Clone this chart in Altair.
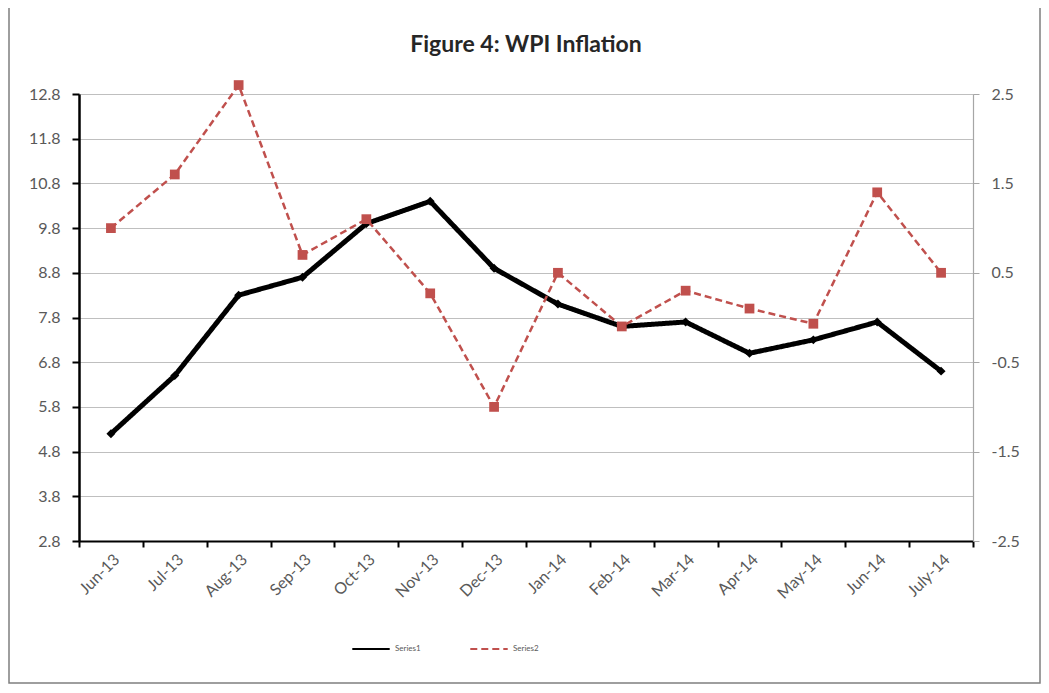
import altair as alt
import pandas as pd

months = ["Jun-13", "Jul-13", "Aug-13", "Sep-13", "Oct-13", "Nov-13", "Dec-13",
          "Jan-14", "Feb-14", "Mar-14", "Apr-14", "May-14", "Jun-14", "July-14"]
series1 = [5.2, 6.5, 8.3, 8.7, 9.9, 10.4, 8.9, 8.1, 7.6, 7.7, 7.0, 7.3, 7.7, 6.6]
series2 = [1.0, 1.6, 2.6, 0.7, 1.1, 0.27, -1.0, 0.5, -0.1, 0.3, 0.1, -0.07, 1.4, 0.5]
left_ticks = [2.8, 3.8, 4.8, 5.8, 6.8, 7.8, 8.8, 9.8, 10.8, 11.8, 12.8]
right_ticks = [-2.5, -1.5, -0.5, 0.5, 1.5, 2.5]
series_names = ["Series1", "Series2"]
title_text = "Figure 4: WPI Inflation"

df = pd.DataFrame({
    "month": months * 2,
    "series": ["Series1"] * len(months) + ["Series2"] * len(months),
    "value": series1 + series2,
})

FONT = "Lato"
LABEL = "#595959"
LFS = 16

xenc = alt.X(
    "month:N", sort=months,
    scale=alt.Scale(type="band", paddingInner=0, paddingOuter=0),
    axis=alt.Axis(title=None, labelAngle=-45, tickBand="extent", domainColor="black",
                  domainWidth=2, tickColor="black", tickWidth=2, tickSize=6,
                  labelFontSize=LFS, labelColor=LABEL, labelFont=FONT, labelPadding=4,
                  grid=False),
)

leg = alt.Legend(title=None, orient="none", legendX=272, legendY=535,
                 direction="horizontal", symbolType="stroke",
                 symbolSize=1400, symbolStrokeWidth=2, labelFontSize=8,
                 labelColor=LABEL, labelFont=FONT, columnPadding=45)
color = alt.Color("series:N", scale=alt.Scale(domain=series_names, range=["black", "#C0504D"]),
                  legend=leg)
dash = alt.StrokeDash("series:N", scale=alt.Scale(domain=series_names, range=[[1, 0], [7, 4]]),
                      legend=leg)

base = alt.Chart(df).encode(x=xenc, color=color, strokeDash=dash)

left = base.transform_filter(alt.datum.series == "Series1").mark_line(
    strokeWidth=5, point=alt.OverlayMarkDef(shape="diamond", filled=True, size=80, color="black")
).encode(
    y=alt.Y("value:Q", scale=alt.Scale(domain=[2.8, 12.8], nice=False, zero=False),
            axis=alt.Axis(title=None, values=left_ticks, format=".1f", orient="left",
                          domainColor="black", domainWidth=2.5, tickColor="black", tickWidth=2,
                          tickSize=7, labelPadding=12, labelFontSize=LFS, labelColor=LABEL,
                          labelFont=FONT, grid=True, gridColor="#BFBFBF", gridWidth=1.2))
)

right = base.transform_filter(alt.datum.series == "Series2").mark_line(
    strokeWidth=2.5, point=alt.OverlayMarkDef(shape="square", filled=True, size=95, color="#C0504D")
).encode(
    y=alt.Y("value:Q", scale=alt.Scale(domain=[-2.5, 2.5], nice=False, zero=False),
            axis=alt.Axis(title=None, values=right_ticks, orient="right",
                          labelExpr="datum.value < 0 ? '-' + format(-datum.value, '.1f') : format(datum.value, '.1f')",
                          domainColor="#A6A6A6", domainWidth=1.2, tickColor="#A6A6A6",
                          tickWidth=1, tickSize=6, labelPadding=12, labelFontSize=LFS,
                          labelColor=LABEL, labelFont=FONT, grid=False))
)

frame = alt.Chart(pd.DataFrame({"k": [0]})).mark_rect(
    filled=False, stroke="#7F7F7F", strokeWidth=1.5
).encode(x=alt.value(-70), x2=alt.value(961), y=alt.value(-87), y2=alt.value(589))

title = alt.Chart(pd.DataFrame({"t": [title_text]})).mark_text(
    fontSize=23, font=FONT, fontWeight="bold", color="#262626", baseline="alphabetic", align="center"
).encode(text="t:N", x=alt.value(447), y=alt.value(-42))

chart = alt.layer(left, right, frame, title).resolve_scale(y="independent").properties(
    width=894, height=447,
    autosize=alt.AutoSizeParams(type="none"),
    padding={"left": 71, "top": 86, "right": 68, "bottom": 144},
).configure_view(stroke=None).configure(background="white")

chart.save("out.html", embed_options={"renderer": "svg", "actions": False})
